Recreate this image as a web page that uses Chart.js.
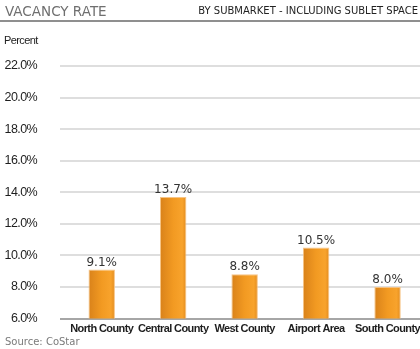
<!DOCTYPE html>
<html>
<head>
<meta charset="utf-8">
<script src="https://cdn.jsdelivr.net/npm/chart.js@4/dist/chart.umd.min.js"></script>
<style>
  html, body { margin: 0; padding: 0; background: #fff; width: 420px; height: 349px; overflow: hidden; }
  .wrap { position: relative; width: 420px; height: 349px; overflow: hidden; }
  .head { position: absolute; left: 0; top: 0; width: 420px; height: 20px; border-bottom: 2px solid #8f8f8f; }
  .title { position: absolute; left: 5px; top: 3px; font: 13.5px 'DejaVu Sans', sans-serif; color: #6f6f6f; }
  .sub { position: absolute; right: 2px; top: 5px; font: 10px 'DejaVu Sans', sans-serif; color: #222; }
  .unit { position: absolute; left: 4px; top: 34px; font: 11px 'Liberation Sans', sans-serif; letter-spacing: -0.6px; color: #222; }
  .src { position: absolute; left: 5px; top: 336px; font: 10px 'DejaVu Sans', sans-serif; color: #7a7a7a; }
  canvas { position: absolute; left: 0; top: 0; }
</style>
</head>
<body>
<div class="wrap">
  <canvas id="vacancyChart" width="424" height="349"></canvas>
  <div class="head">
    <span class="title">VACANCY RATE</span>
    <span class="sub">BY SUBMARKET - INCLUDING SUBLET SPACE</span>
  </div>
  <div class="unit">Percent</div>
  <div class="src">Source: CoStar</div>
</div>
<script>
// ===== DATA =====
var submarkets = ['North County', 'Central County', 'West County', 'Airport Area', 'South County'];
var vacancyRates = [9.1, 13.7, 8.8, 10.5, 8.0];
var yTicks = [6, 8, 10, 12, 14, 16, 18, 20, 22];

var axisFont = "'Liberation Sans', Arial, sans-serif";

// horizontal orange shading on each bar
function barGradient(context) {
  var chart = context.chart;
  var xs = chart.scales.x;
  if (!xs || !chart.chartArea) return '#f29b22';
  var cx = xs.getPixelForValue(context.dataIndex);
  var half = 13;
  var g = chart.ctx.createLinearGradient(cx - half, 0, cx + half, 0);
  g.addColorStop(0, '#d9821a');
  g.addColorStop(0.5, '#f29a22');
  g.addColorStop(0.85, '#f8a32c');
  g.addColorStop(1, '#e38c1e');
  return g;
}

// tighter letters on the axis text (reference uses a condensed face)
var tightText = {
  id: 'tightText',
  beforeUpdate: function(chart) { chart.ctx.letterSpacing = '-0.6px'; },
  beforeDraw: function(chart) { chart.ctx.letterSpacing = '-0.6px'; }
};

// value labels above bars
var valueLabels = {
  id: 'valueLabels',
  afterDatasetsDraw: function(chart) {
    var ctx = chart.ctx;
    var meta = chart.getDatasetMeta(0);
    ctx.save();
    ctx.letterSpacing = '0px';
    ctx.font = '12px "DejaVu Sans", sans-serif';
    ctx.fillStyle = '#333';
    ctx.textAlign = 'center';
    ctx.textBaseline = 'bottom';
    meta.data.forEach(function(bar, i) {
      ctx.fillText(vacancyRates[i].toFixed(1) + '%', bar.x, bar.y - 1);
    });
    ctx.restore();
  }
};

var ctx = document.getElementById('vacancyChart');
new Chart(ctx, {
  type: 'bar',
  data: {
    labels: submarkets,
    datasets: [{
      data: vacancyRates,
      backgroundColor: barGradient,
      borderColor: 'rgba(246,190,120,0.9)',
      borderWidth: 1,
      borderSkipped: 'bottom',
      barPercentage: 0.37,
      categoryPercentage: 1
    }]
  },
  options: {
    responsive: false,
    animation: false,
    layout: { padding: { top: 66, right: 0, bottom: 7, left: 0 } },
    plugins: { legend: { display: false }, tooltip: { enabled: false } },
    scales: {
      x: {
        grid: { display: false, drawTicks: false },
        border: { display: false },
        ticks: {
          color: '#1e1e1e',
          padding: 4,
          autoSkip: false,
          maxRotation: 0,
          minRotation: 0,
          font: { family: axisFont, size: 11, weight: 'bold' }
        }
      },
      y: {
        min: 6,
        max: 22,
        afterBuildTicks: function(scale) {
          scale.ticks = yTicks.map(function(v) { return { value: v }; });
        },
        grid: {
          color: function(c) { return c.tick && c.tick.value === 6 ? '#a6a6a6' : '#dedede'; },
          lineWidth: 2,
          drawTicks: true,
          tickLength: 6
        },
        border: { display: false },
        ticks: {
          color: '#1e1e1e',
          padding: 23,
          font: { family: axisFont, size: 12.5 },
          callback: function(v) { return Number(v).toFixed(1) + '%'; }
        },
        afterFit: function(scale) { scale.width = 66; }
      }
    }
  },
  plugins: [tightText, valueLabels]
});
</script>
</body>
</html>
